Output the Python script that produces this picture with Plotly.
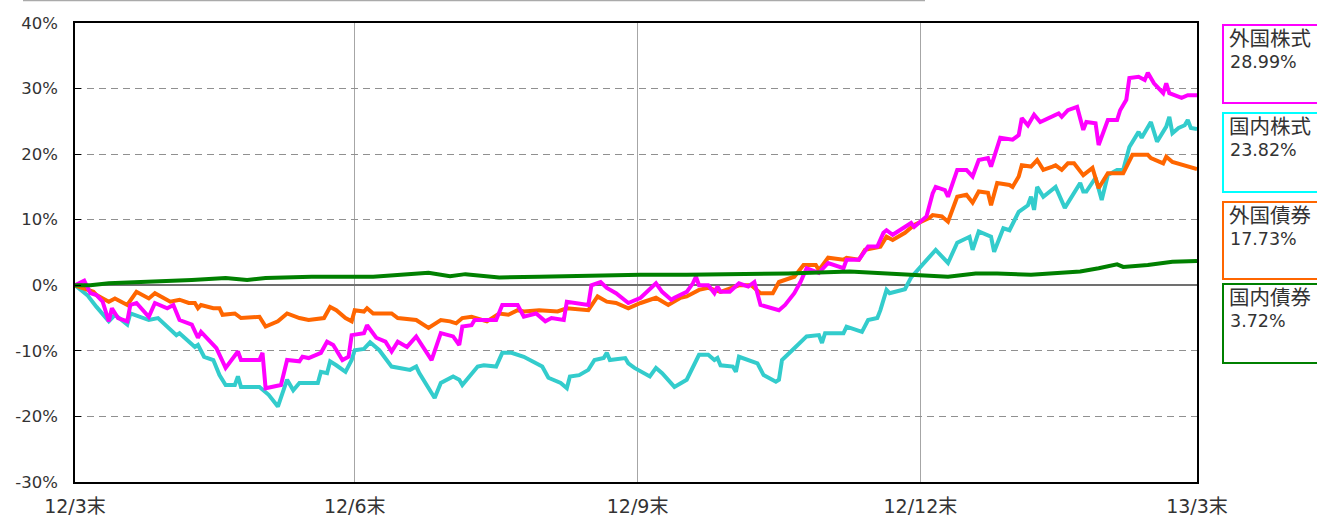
import pandas as pd
import plotly.graph_objects as go

BASE = pd.Timestamp("2012-03-31")

# 外国株式 (magenta): days since 2012-03-31, cumulative return %
fs_days = [0, 3, 5, 7, 9, 11, 12, 14, 17, 18, 20, 24, 26, 30, 32, 34, 38, 40, 41, 46, 49, 51, 53, 54, 60, 61,
           62, 67, 69, 73, 74, 76, 79, 80, 82, 84, 87, 89, 90, 94, 95, 98, 101, 103, 105, 108, 111, 115, 116,
           119, 123, 125, 126, 129, 130, 137, 139, 144, 146, 150, 153, 155, 159, 160, 164, 167, 168, 171, 173,
           176, 180, 183, 184, 189, 191, 194, 195, 199, 201, 202, 203, 206, 208, 209, 210, 213, 216, 219, 221,
           223, 225, 229, 231, 234, 236, 238, 242, 245, 250, 251, 255, 258, 261, 263, 264, 266, 272, 273, 277,
           279, 280, 283, 284, 287, 290, 292, 294, 297, 298, 301, 305, 307, 308, 310, 312, 314, 320, 321, 323,
           326, 328, 329, 332, 333, 336, 339, 340, 342, 343, 346, 348, 349, 351, 354, 355, 356, 360, 362, 365]
fs_vals = [0, 0.7, -1.2, -1.5, -2.5, -5.5, -3.5, -5.0, -5.5, -3.0, -2.7, -4.8, -2.7, -3.5, -3.0, -5.3, -6.0,
           -8.0, -7.1, -9.6, -12.6, -11.4, -10.1, -11.4, -11.4, -10.3, -15.7, -15.2, -11.4, -11.6, -10.9,
           -11.1, -10.6, -10.3, -8.6, -9.1, -11.4, -10.9, -7.6, -7.3, -6.1, -8.0, -8.6, -10.1, -8.6, -9.4,
           -7.8, -10.9, -11.4, -7.3, -7.8, -9.1, -6.3, -6.1, -5.3, -5.3, -3.0, -3.0, -4.8, -4.3, -5.5, -5.0,
           -5.3, -2.5, -2.7, -3.0, 0.0, 0.5, -0.4, -1.2, -2.7, -2.2, -1.9, 0.3, -1.0, -2.2, -1.9, -1.0, 0.3,
           1.3, 0.0, 0.0, -1.2, -0.2, -1.0, -1.0, 0.3, -0.2, 0.5, -3.0, -3.3, -3.8, -3.0, -1.2, 0.5, 2.6, 1.9,
           3.4, 2.6, 3.9, 3.9, 5.9, 5.9, 8.0, 8.4, 7.7, 9.5, 8.9, 10.5, 14.0, 15.0, 14.5, 13.5, 17.6, 17.6,
           16.6, 19.1, 19.4, 18.1, 22.5, 22.2, 22.9, 25.5, 24.4, 26.0, 24.9, 26.2, 25.7, 26.7, 27.2, 23.7,
           24.9, 24.7, 21.4, 25.2, 25.2, 26.7, 28.3, 31.6, 31.8, 31.3, 32.4, 30.8, 29.3, 30.8, 29.3, 28.6,
           29.0, 28.99]

# 国内株式 (cyan)
ds_days = [0, 4, 7, 11, 13, 17, 18, 24, 27, 33, 34, 39, 40, 42, 45, 47, 49, 52, 53, 54, 60, 63, 66, 69, 71,
           73, 79, 80, 82, 83, 85, 87, 88, 90, 91, 94, 96, 99, 103, 109, 111, 112, 117, 119, 123, 125, 126,
           131, 133, 137, 139, 142, 146, 152, 154, 158, 160, 161, 164, 167, 169, 172, 173, 174, 179, 180, 182,
           187, 189, 191, 195, 199, 203, 206, 208, 209, 210, 214, 215, 216, 220, 222, 224, 228, 229, 230, 234,
           237, 238, 242, 243, 244, 250, 251, 256, 258, 261, 262, 264, 265, 270, 272, 275, 280, 284, 287, 291,
           292, 294, 298, 299, 302, 304, 307, 310, 311, 312, 313, 315, 319, 322, 325, 327, 328, 329, 332, 334,
           336, 339, 341, 343, 346, 347, 350, 352, 355, 356, 357, 359, 361, 362, 363, 365]
ds_vals = [0, -1.5, -3.3, -5.5, -4.5, -6.0, -4.3, -5.3, -5.0, -7.6, -7.3, -9.4, -9.1, -10.9, -11.4, -13.7,
           -15.2, -15.2, -13.9, -15.5, -15.5, -16.7, -18.5, -14.4, -16.0, -14.9, -14.9, -13.2, -13.4, -11.6,
           -12.2, -12.9, -13.2, -11.4, -9.9, -9.7, -8.7, -9.9, -12.4, -12.9, -12.4, -13.4, -17.2, -14.9,
           -13.9, -14.4, -15.2, -12.4, -12.2, -12.4, -10.3, -10.3, -10.9, -12.4, -14.1, -14.9, -15.7, -13.9,
           -13.7, -12.9, -11.4, -11.1, -10.3, -11.4, -11.1, -11.9, -12.6, -13.9, -12.6, -13.4, -15.5, -14.4,
           -10.6, -10.6, -11.4, -11.1, -12.2, -12.4, -13.2, -10.9, -11.6, -11.9, -13.7, -14.7, -14.4, -11.4,
           -9.6, -8.1, -7.8, -7.6, -8.8, -7.3, -7.3, -6.3, -7.1, -5.3, -5.0, -3.8, -0.7, -1.2, -0.6, 1.2, 2.8,
           5.4, 3.4, 6.5, 7.4, 5.4, 8.2, 7.4, 5.1, 8.7, 8.4, 11.2, 12.2, 13.5, 11.5, 15.0, 13.5, 15.0, 11.8,
           14.1, 15.6, 14.3, 14.3, 16.4, 13.0, 16.8, 17.6, 17.6, 21.1, 23.4, 22.5, 24.9, 21.9, 24.2, 25.7,
           23.2, 24.0, 24.4, 25.2, 24.0, 23.82]

# 外国債券 (orange)
fb_days = [0, 6, 7, 11, 13, 17, 20, 24, 26, 31, 34, 37, 39, 40, 41, 45, 47, 48, 52, 54, 60, 62, 66, 69, 73,
           76, 81, 83, 85, 88, 90, 91, 94, 95, 97, 103, 105, 111, 115, 119, 122, 124, 126, 129, 134, 138, 141,
           144, 146, 151, 157, 160, 167, 169, 170, 173, 176, 180, 184, 189, 193, 197, 199, 203, 206, 210, 214,
           216, 220, 223, 227, 229, 234, 237, 241, 242, 245, 250, 251, 255, 257, 262, 264, 266, 270, 273, 278,
           279, 282, 284, 287, 290, 292, 294, 297, 298, 300, 304, 305, 307, 308, 311, 313, 315, 318, 319, 321,
           323, 325, 328, 331, 333, 336, 341, 344, 349, 350, 354, 355, 357, 365]
fb_vals = [0, -1.0, -1.5, -2.5, -2.0, -3.0, -1.0, -2.0, -1.2, -2.5, -2.2, -2.7, -2.7, -3.5, -3.0, -3.5, -3.5,
           -4.5, -4.3, -5.0, -4.8, -6.3, -5.5, -4.3, -5.0, -5.3, -5.0, -3.3, -3.8, -5.0, -5.5, -3.8, -4.0,
           -3.5, -4.3, -4.3, -5.0, -5.3, -6.5, -5.3, -5.5, -5.8, -5.0, -4.8, -5.5, -4.3, -4.5, -3.8, -4.0,
           -3.8, -4.0, -3.5, -3.8, -2.2, -1.7, -2.5, -2.7, -3.5, -2.7, -1.9, -3.0, -1.9, -1.7, -0.7, -0.4,
           -1.0, -0.4, 0.0, 0.0, -1.2, -1.2, 0.5, 1.3, 3.1, 3.1, 2.3, 4.2, 3.9, 4.2, 3.9, 5.4, 5.9, 7.4, 6.9,
           8.0, 9.2, 10.3, 10.7, 10.5, 9.7, 13.5, 13.8, 12.6, 14.3, 14.1, 12.2, 15.6, 15.3, 15.0, 16.6, 18.3,
           18.1, 19.1, 17.6, 18.1, 18.3, 17.6, 18.6, 18.6, 16.8, 17.9, 14.8, 17.1, 17.1, 19.9, 19.9, 19.4,
           18.6, 19.6, 18.8, 17.73]

# 国内債券 (green)
db_days = [0, 5, 11, 24, 38, 49, 56, 62, 77, 93, 97, 115, 122, 127, 138, 151, 168, 184, 199, 221, 232, 252,
           264, 273, 284, 293, 300, 311, 327, 333, 339, 341, 349, 357, 365]
db_vals = [0, 0.0, 0.3, 0.5, 0.8, 1.1, 0.8, 1.1, 1.3, 1.3, 1.3, 1.9, 1.4, 1.7, 1.2, 1.3, 1.5, 1.6, 1.6, 1.7,
           1.8, 2.1, 1.8, 1.6, 1.3, 1.8, 1.8, 1.6, 2.1, 2.6, 3.2, 2.8, 3.1, 3.6, 3.72]

names = ["外国株式", "国内株式", "外国債券", "国内債券"]
finals = ["28.99%", "23.82%", "17.73%", "3.72%"]
line_colors = ["#FF00FF", "#33CCCC", "#FF6600", "#008000"]
box_colors = ["#FF00FF", "#00FFFF", "#FF6600", "#008000"]

tick_dates = ["2012-03-31", "2012-06-30", "2012-09-30", "2012-12-31", "2013-03-31"]
tick_text = ["12/3末", "12/6末", "12/9末", "12/12末", "13/3末"]
y_ticks = [-30, -20, -10, 0, 10, 20, 30, 40]
y_text = ["-30%", "-20%", "-10%", "0%", "10%", "20%", "30%", "40%"]


def to_dates(days):
    return BASE + pd.to_timedelta(days, unit="D")


series = [(fs_days, fs_vals), (ds_days, ds_vals), (fb_days, fb_vals), (db_days, db_vals)]

fig = go.Figure()
draw_order = [1, 2, 0, 3]
for i in draw_order:
    d, v = series[i]
    fig.add_trace(go.Scatter(x=to_dates(d), y=v, mode="lines", name=names[i],
                             line=dict(color=line_colors[i], width=4), showlegend=False))

W, H = 1317, 518
L, R, T, B = 75, 120, 23, 36
pw, ph = W - L - R, H - T - B


def px_x(x):
    return (x - L) / pw


def px_y(y):
    return (H - B - y) / ph


num_font = "DejaVu Sans, Noto Sans CJK JP, sans-serif"
jp_font = "Noto Sans CJK JP, sans-serif"

fig.update_layout(
    width=W, height=H, margin=dict(l=L, r=R, t=T, b=B, autoexpand=False),
    plot_bgcolor="white", paper_bgcolor="white",
    font=dict(family=num_font, size=17, color="#333333"),
    xaxis=dict(type="date", range=[tick_dates[0], tick_dates[-1]], tickvals=tick_dates, ticktext=tick_text,
               showgrid=True, gridcolor="#A6A6A6", gridwidth=1, zeroline=False,
               showline=True, linecolor="#000000", linewidth=1.5, mirror=True, ticks="",
               ticklabelstandoff=6,
               tickfont=dict(size=19, color="#333333", family=num_font)),
    yaxis=dict(range=[-30, 40], tickvals=y_ticks, ticktext=y_text, showgrid=True, gridcolor="#909090",
               gridwidth=1, griddash="7px,5px", zeroline=True, zerolinecolor="#707070", zerolinewidth=2,
               showline=True, linecolor="#000000", linewidth=1.5, mirror=True,
               ticks="inside", ticklen=6, tickcolor="#000000", ticklabelstandoff=12,
               tickfont=dict(size=16.5, color="#333333", family=num_font)),
)

box_tops = [25, 113, 202, 284]
box_bottoms = [103, 192, 279, 363]
shapes = []
annotations = []
for i in range(4):
    shapes.append(dict(type="rect", xref="paper", yref="paper",
                       x0=px_x(1223), x1=px_x(1330), y0=px_y(box_bottoms[i]), y1=px_y(box_tops[i]),
                       line=dict(color=box_colors[i], width=2), fillcolor="rgba(0,0,0,0)"))
    annotations.append(dict(xref="paper", yref="paper", x=px_x(1227), y=px_y(box_tops[i] + 12),
                            xanchor="left", yanchor="middle", align="left", showarrow=False,
                            text=names[i], font=dict(size=20.5, color="#333333", family=jp_font)))
    annotations.append(dict(xref="paper", yref="paper", x=px_x(1228), y=px_y(box_tops[i] + 37),
                            xanchor="left", yanchor="middle", align="left", showarrow=False,
                            text=finals[i], font=dict(size=17.5, color="#333333", family=num_font)))

shapes.append(dict(type="line", xref="paper", yref="paper", x0=px_x(23), x1=px_x(925),
                   y0=px_y(0.5), y1=px_y(0.5), line=dict(color="#AAAAAA", width=1.5)))

fig.update_layout(shapes=shapes, annotations=annotations)
fig.write_html("out.html", config={"displayModeBar": False},
               post_script="document.body.style.margin='0px';")
